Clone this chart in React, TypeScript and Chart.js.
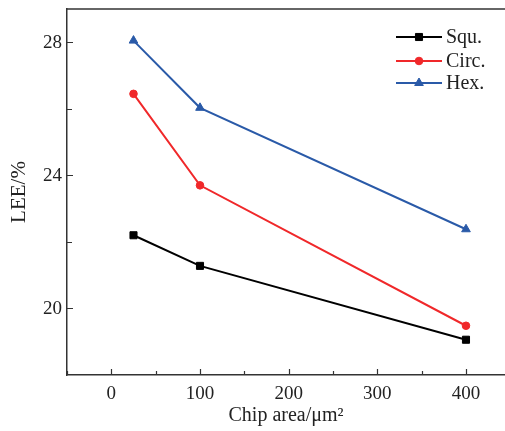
import { useEffect, useRef } from 'react';
import { Chart, registerables } from 'chart.js';
import { drawPoint } from 'chart.js/helpers';

Chart.register(...registerables);

const chipArea = [25, 100, 400];
const squ = [22.2, 21.28, 19.06];
const circ = [26.45, 23.7, 19.48];
const hex = [28.05, 26.03, 22.38];
const seriesLabels = ['Squ.', 'Circ.', 'Hex.'];
const xTickLabels = [0, 100, 200, 300, 400];
const yTickLabels = [20, 24, 28];
const xTitle = 'Chip area/μm²';
const yTitle = 'LEE/%';

const FONT = "'Liberation Serif', 'Times New Roman', serif";
const AXIS_COLOR = '#333333';
const TEXT_COLOR = '#222222';

const framePlugin = {
  id: 'frameAndLegend',
  afterDraw(chart: any) {
    const { ctx, chartArea: a, scales } = chart;
    ctx.save();
    ctx.strokeStyle = AXIS_COLOR;
    ctx.lineWidth = 1.5;
    ctx.beginPath();
    ctx.moveTo(a.left, a.top);
    ctx.lineTo(a.right, a.top);
    ctx.stroke();

    // inward tick marks
    ctx.lineWidth = 1.2;
    ctx.beginPath();
    const xs = scales.x;
    xs.ticks.forEach((t: any) => {
      if (t.value < xs.min || t.value > xs.max) return;
      const px = Math.round(xs.getPixelForValue(t.value)) + 0.5;
      const major = xTickLabels.includes(t.value);
      ctx.moveTo(px, a.bottom);
      ctx.lineTo(px, a.bottom - (major ? 6 : 4));
    });
    const ys = scales.y;
    ys.ticks.forEach((t: any) => {
      if (t.value <= ys.min || t.value > ys.max) return;
      const py = Math.round(ys.getPixelForValue(t.value)) + 0.5;
      const major = yTickLabels.includes(t.value);
      ctx.moveTo(a.left, py);
      ctx.lineTo(a.left + (major ? 6 : 5), py);
    });
    ctx.stroke();

    // legend
    const lx0 = a.right - 109;
    const lx1 = a.right - 63;
    const rowY = [a.top + 28, a.top + 52, a.top + 74];
    chart.data.datasets.forEach((ds: any, i: number) => {
      const y = rowY[i];
      ctx.strokeStyle = ds.borderColor;
      ctx.lineWidth = 2;
      ctx.beginPath();
      ctx.moveTo(lx0, y);
      ctx.lineTo(lx1, y);
      ctx.stroke();
      ctx.fillStyle = ds.pointBackgroundColor;
      ctx.strokeStyle = ds.borderColor;
      ctx.lineWidth = 1;
      drawPoint(
        ctx,
        { pointStyle: ds.pointStyle, rotation: 0, borderWidth: 1, radius: ds.pointRadius } as any,
        (lx0 + lx1) / 2,
        y
      );
      ctx.fillStyle = TEXT_COLOR;
      ctx.font = `20px ${FONT}`;
      ctx.textBaseline = 'middle';
      ctx.textAlign = 'left';
      ctx.fillText(ds.label, lx1 + 4, y + 1);
    });
    ctx.restore();
  },
};

export default function App() {
  const ref = useRef<HTMLCanvasElement | null>(null);

  useEffect(() => {
    document.body.style.margin = '0';
    const canvas = ref.current;
    if (!canvas) return;
    const mk = (label: string, data: number[], color: string, style: string, r: number) => ({
      label,
      data: chipArea.map((x, i) => ({ x, y: data[i] })),
      borderColor: color,
      backgroundColor: color,
      pointBackgroundColor: color,
      pointBorderColor: color,
      pointStyle: style,
      pointRadius: r,
      pointBorderWidth: 1,
      borderWidth: 2,
      tension: 0,
      fill: false,
      clip: false,
    });
    const chart = new Chart(canvas, {
      type: 'line',
      data: {
        datasets: [
          mk(seriesLabels[0], squ, '#000000', 'rect', 5),
          mk(seriesLabels[1], circ, '#f0282a', 'circle', 3.8),
          mk(seriesLabels[2], hex, '#2a5aa8', 'triangle', 5),
        ] as any,
      },
      options: {
        animation: false,
        responsive: false,
        maintainAspectRatio: false,
        layout: { autoPadding: false, padding: { left: 0, top: 9, right: 0, bottom: 0 } },
        plugins: { legend: { display: false }, tooltip: { enabled: false } },
        scales: {
          x: {
            type: 'linear',
            min: -50,
            max: 444,
            afterFit(scale: any) {
              scale.height = 56;
              scale.paddingLeft = 0;
              scale.paddingRight = 0;
            },
            ticks: {
              stepSize: 50,
              includeBounds: false,
              autoSkip: false,
              maxRotation: 0,
              padding: 8,
              color: TEXT_COLOR,
              font: { family: FONT, size: 19 },
              callback: (v: any) => (xTickLabels.includes(Number(v)) ? String(v) : ''),
            },
            grid: { display: false, drawTicks: false },
            border: { display: true, color: AXIS_COLOR, width: 1.5 },
            title: {
              display: true,
              text: xTitle,
              color: TEXT_COLOR,
              font: { family: FONT, size: 20 },
              padding: { top: 0, bottom: 3 },
            },
          },
          y: {
            type: 'linear',
            min: 18,
            max: 29,
            afterFit(scale: any) {
              scale.width = 67;
              scale.paddingTop = 0;
              scale.paddingBottom = 0;
            },
            ticks: {
              stepSize: 2,
              includeBounds: false,
              autoSkip: false,
              padding: 5,
              labelOffset: 1,
              color: TEXT_COLOR,
              font: { family: FONT, size: 19 },
              callback: (v: any) => (yTickLabels.includes(Number(v)) ? String(v) : ''),
            },
            grid: { display: false, drawTicks: false },
            border: { display: true, color: AXIS_COLOR, width: 1.5 },
            title: {
              display: true,
              text: yTitle,
              color: TEXT_COLOR,
              font: { family: FONT, size: 21 },
              padding: { top: 7, bottom: 0 },
            },
          },
        },
      },
      plugins: [framePlugin],
    });
    return () => chart.destroy();
  }, []);

  return (
    <div style={{ width: 505, height: 431 }}>
      <canvas ref={ref} width={505} height={431} />
    </div>
  );
}
